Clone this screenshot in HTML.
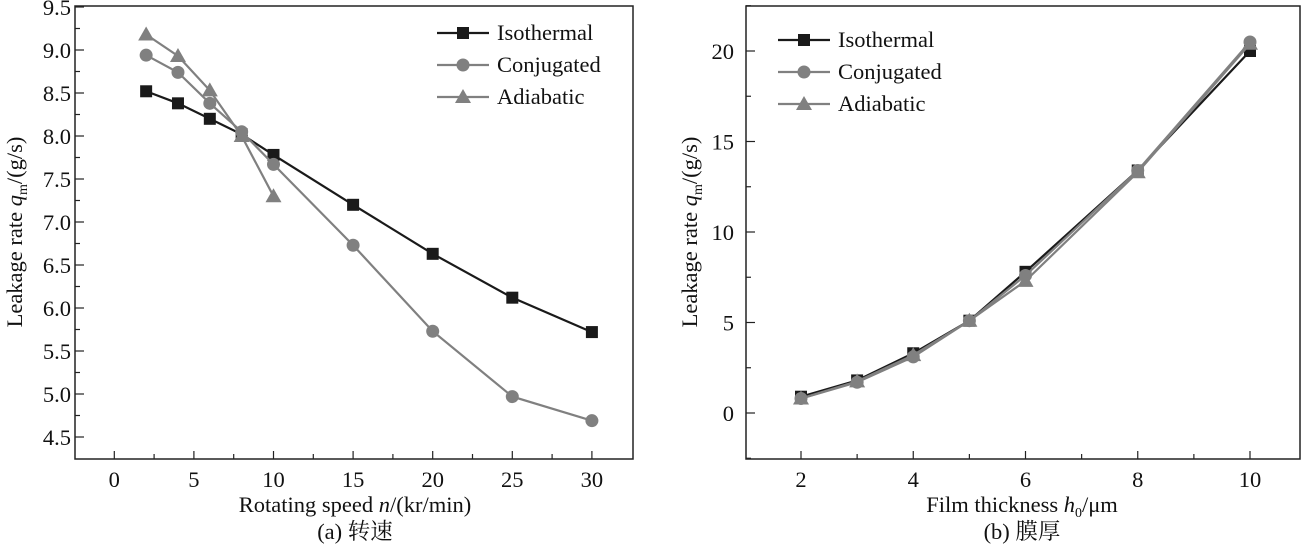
<!DOCTYPE html>
<html><head><meta charset="utf-8"><style>
html,body{margin:0;padding:0;background:#fff;}
svg, svg text{font-family:"Liberation Serif","Times New Roman","DejaVu Serif","Noto Serif CJK SC",serif;}
</style></head><body>
<svg id="svg" width="1306" height="545" viewBox="0 0 1306 545" font-family="'Liberation Serif', 'Noto Serif CJK SC', serif"></svg>
<script>
// Chart (a)
const speedX = [2,4,6,8,10,15,20,25,30];
const isoA = [8.52,8.38,8.2,8.02,7.78,7.2,6.63,6.12,5.72];
const conjA = [8.94,8.74,8.38,8.05,7.67,6.73,5.73,4.97,4.69];
const adiaXA = [2,4,6,8,10];
const adiaA = [9.18,8.93,8.53,8.0,7.3];
const xTicksA = [0,5,10,15,20,25,30];
const yTicksA = ["4.5","5.0","5.5","6.0","6.5","7.0","7.5","8.0","8.5","9.0","9.5"];
// Chart (b)
const filmX = [2,3,4,5,6,8,10];
const isoB = [0.9,1.8,3.3,5.1,7.8,13.4,20.0];
const conjB = [0.8,1.7,3.1,5.1,7.6,13.4,20.5];
const adiaB = [0.8,1.75,3.2,5.1,7.3,13.3,20.4];
const xTicksB = [2,4,6,8,10];
const yTicksB = [0,5,10,15,20];
const seriesNames = ["Isothermal","Conjugated","Adiabatic"];

const NS="http://www.w3.org/2000/svg";
const svg=document.getElementById('svg');
const FF="'Liberation Serif', 'Noto Serif CJK SC', serif";
function mk(tag,attrs,parent,text){const e=document.createElementNS(NS,tag);for(const k in attrs)e.setAttribute(k,attrs[k]);if(tag==='text')e.setAttribute('font-family',FF);if(text!==undefined)e.textContent=text;(parent||svg).appendChild(e);return e;}

const DARK="#1a1a1a", GRAY="#808080";
const FS=22.5;

function marker(g,type,x,y,color){
  let m;
  if(type==='sq') m=mk('rect',{x:x-6,y:y-6,width:12,height:12,fill:color},g);
  else if(type==='ci') m=mk('circle',{cx:x,cy:y,r:6.5,fill:color},g);
  else m=mk('polygon',{points:`${x},${y-8} ${x+8},${y+6} ${x-8},${y+6}`,fill:color},g);
  
  
}

function series(g,xs,ys,sx,sy,color,type,name){
  const s=mk('g',{},g);
  
  
  const pts=xs.map((x,i)=>sx(x)+','+sy(ys[i])).join(' ');
  mk('polyline',{points:pts,fill:'none',stroke:color,'stroke-width':2.2},s);
  xs.forEach((x,i)=>marker(s,type,sx(x),sy(ys[i]),color));
}

function legend(g,x0,y0){
  const lg=mk('g',{},g);
  
  
  const types=['sq','ci','tr'], cols=[DARK,GRAY,GRAY];
  seriesNames.forEach((n,i)=>{
    const e=mk('g',{},lg);
    
    
    const y=y0+i*32;
    mk('line',{x1:x0,y1:y,x2:x0+52,y2:y,stroke:cols[i],'stroke-width':2.2},e);
    marker(e,types[i],x0+26,y,cols[i]);
    mk('text',{x:x0+60,y:y+7,'font-size':FS,fill:'#111'},e,n);
  });
}

// ---- Chart A ----
(function(){
  const L=75,R=633,T=6,B=459;
  const sx=v=>114.3+(v-0)*(79.6/5);
  const sy=v=>437-(v-4.5)*(43/0.5);
  const g=mk('g',{});
  
  
  mk('rect',{x:L,y:T,width:R-L,height:B-T,fill:'none',stroke:'#222','stroke-width':1.5},g);
  for(let v=0;v<=30;v+=2.5){const x=sx(v);const major=v%5===0;mk('line',{x1:x,y1:B,x2:x,y2:B-(major?8:5),stroke:'#222','stroke-width':1.2},g);}
  xTicksA.forEach(v=>{const t=mk('text',{x:sx(v),y:487,'font-size':FS,'text-anchor':'middle',fill:'#111'},g,String(v));});
  for(let v=4.5;v<=9.5001;v+=0.25){const y=sy(v);const major=Math.abs(v*2-Math.round(v*2))<1e-6;mk('line',{x1:L,y1:y,x2:L+(major?9:5),y2:y,stroke:'#222','stroke-width':1.2},g);}
  yTicksA.forEach(s=>{const t=mk('text',{x:L-4,y:sy(parseFloat(s))+8,'font-size':FS,'text-anchor':'end',fill:'#111'},g,s);});
  series(g,speedX,isoA,sx,sy,DARK,'sq','isothermal-series');
  series(g,speedX,conjA,sx,sy,GRAY,'ci','conjugated-series');
  series(g,adiaXA,adiaA,sx,sy,GRAY,'tr','adiabatic-series');
  legend(g,437,33);
  const xt=mk('text',{x:355,y:512,'font-size':FS,'text-anchor':'middle',fill:'#111'},g);
  
  xt.innerHTML='Rotating speed <tspan font-style="italic">n</tspan>/(kr/min)';
  const cap=mk('text',{x:355,y:539,'font-size':FS,'text-anchor':'middle',fill:'#111'},g,'(a) 转速');
  
  const yt=mk('text',{transform:'translate(22,232) rotate(-90)','font-size':FS,'text-anchor':'middle',fill:'#111'},g);
  
  yt.innerHTML='Leakage rate <tspan font-style="italic">q</tspan><tspan font-size="14" dy="5">m</tspan><tspan dy="-5">/(g/s)</tspan>';
})();

// ---- Chart B ----
(function(){
  const L=746,R=1300,T=6,B=459;
  const sx=v=>801+(v-2)*(449/8);
  const sy=v=>413-v*(362/20);
  const g=mk('g',{});
  
  
  mk('rect',{x:L,y:T,width:R-L,height:B-T,fill:'none',stroke:'#222','stroke-width':1.5},g);
  for(let v=2;v<=10;v+=1){const x=sx(v);const major=v%2===0;mk('line',{x1:x,y1:B,x2:x,y2:B-(major?8:5),stroke:'#222','stroke-width':1.2},g);}
  xTicksB.forEach(v=>{const t=mk('text',{x:sx(v),y:487,'font-size':FS,'text-anchor':'middle',fill:'#111'},g,String(v));});
  for(let v=-2.5;v<=22.5;v+=2.5){const y=sy(v);const major=v%5===0;mk('line',{x1:L,y1:y,x2:L+(major?9:5),y2:y,stroke:'#222','stroke-width':1.2},g);}
  yTicksB.forEach(v=>{const t=mk('text',{x:L-12,y:sy(v)+8,'font-size':FS,'text-anchor':'end',fill:'#111'},g,String(v));});
  series(g,filmX,isoB,sx,sy,DARK,'sq','isothermal-series');
  series(g,filmX,adiaB,sx,sy,GRAY,'tr','adiabatic-series');
  series(g,filmX,conjB,sx,sy,GRAY,'ci','conjugated-series');
  legend(g,778,40);
  const xt=mk('text',{x:1022,y:512,'font-size':FS,'text-anchor':'middle',fill:'#111'},g);
  
  xt.innerHTML='Film thickness <tspan font-style="italic">h</tspan><tspan font-size="14" dy="5">0</tspan><tspan dy="-5">/μm</tspan>';
  const cap=mk('text',{x:1022,y:539,'font-size':FS,'text-anchor':'middle',fill:'#111'},g,'(b) 膜厚');
  
  const yt=mk('text',{transform:'translate(697,232) rotate(-90)','font-size':FS,'text-anchor':'middle',fill:'#111'},g);
  
  yt.innerHTML='Leakage rate <tspan font-style="italic">q</tspan><tspan font-size="14" dy="5">m</tspan><tspan dy="-5">/(g/s)</tspan>';
})();
</script>
</body></html>
